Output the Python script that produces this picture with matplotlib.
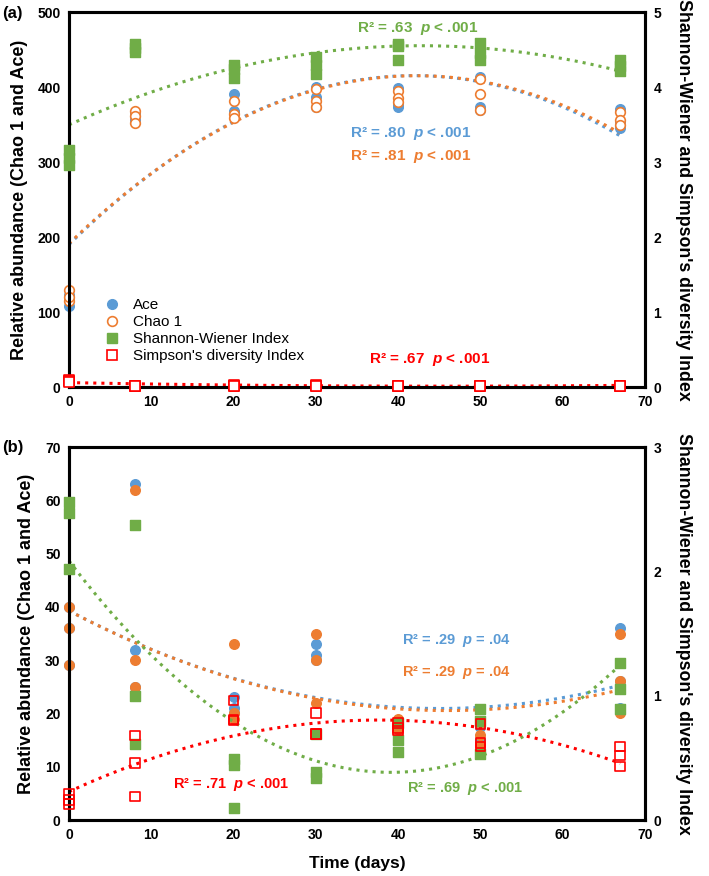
import numpy as np
import matplotlib
matplotlib.use("Agg")
import matplotlib.pyplot as plt
from matplotlib.lines import Line2D

# fonts: bold sans everywhere, bold italic p in the R2 notes
plt.rcParams['font.family'] = ['Liberation Sans', 'DejaVu Sans']
plt.rcParams['mathtext.fontset'] = 'custom'
plt.rcParams['mathtext.it'] = 'Liberation Sans:italic:bold'
plt.rcParams['mathtext.rm'] = 'Liberation Sans:bold'

# sampling days (3 replicates per day)
days = [0, 0, 0, 8, 8, 8, 20, 20, 20, 30, 30, 30, 40, 40, 40, 50, 50, 50, 67, 67, 67]

# panel (a)
ace_a = [108, 119, 123, 356, 366, 362, 391, 368, 366, 400, 387, 373,
         399, 376, 373, 414, 373, 370, 371, 354, 346]
chao_a = [129, 115, 120, 368, 362, 352, 381, 364, 359, 398, 381, 374,
          395, 386, 380, 411, 391, 369, 367, 356, 350]
shannon_a = [3.16, 3.05, 2.96, 4.58, 4.52, 4.47, 4.30, 4.24, 4.12, 4.40, 4.30, 4.18,
             4.57, 4.55, 4.36, 4.59, 4.46, 4.36, 4.36, 4.28, 4.22]
simpson_a = [0.09, 0.08, 0.07, 0.01, 0.01, 0.02, 0.03, 0.02, 0.02, 0.03, 0.02, 0.02,
             0.02, 0.02, 0.01, 0.02, 0.02, 0.01, 0.02, 0.02, 0.01]

# panel (b)
ace_b = [40, 36, 29, 63, 32, 25, 23, 21, 20, 33, 31, 30,
         18.5, 17.5, 17, 18, 17.4, 15, 36, 26, 21]
chao_b = [40, 36, 29, 62, 30, 25, 33, 20, 19, 35, 22, 30,
          19, 17.5, 17, 18.2, 16, 14, 35, 26, 20]
shannon_b = [2.56, 2.47, 2.02, 2.37, 1.00, 0.61, 0.49, 0.44, 0.10, 0.69, 0.39, 0.34,
             0.78, 0.64, 0.55, 0.89, 0.80, 0.53, 1.26, 1.05, 0.89]
simpson_b = [0.21, 0.13, 0.16, 0.68, 0.46, 0.19, 0.96, 0.81, 0.80, 0.86, 0.69, 0.69,
             0.78, 0.74, 0.72, 0.77, 0.62, 0.59, 0.59, 0.52, 0.43]

# R2 notes
notes_a = [('R² = .63  $p$ < .001', 'green'), ('R² = .80  $p$ < .001', 'blue'),
           ('R² = .81  $p$ < .001', 'orange'), ('R² = .67  $p$ < .001', 'red')]
notes_b = [('R² = .29  $p$ = .04', 'blue'), ('R² = .29  $p$ = .04', 'orange'),
           ('R² = .71  $p$ < .001', 'red'), ('R² = .69  $p$ < .001', 'green')]

col = {'blue': '#5B9BD5', 'orange': '#ED7D31', 'green': '#70AD47', 'red': '#FF0000'}

x = np.array(days, dtype=float)
xs = np.linspace(0, 67, 200)


def trend(ax, y, c):
    # 2nd order polynomial trendline like excel
    p = np.polyfit(x, y, 2)
    ax.plot(xs, np.polyval(p, xs), ls=':', lw=2.2, color=c, clip_on=False, zorder=2)


def style(ax, ax2):
    for a in (ax, ax2):
        for s in a.spines.values():
            s.set_linewidth(2.2)
        a.tick_params(length=0, labelsize=10, pad=6)
        for t in a.get_xticklabels() + a.get_yticklabels():
            t.set_fontweight('bold')
    ax.set_xlim(0, 70)
    ax.set_xticks(range(0, 71, 10))
    for t in ax.get_xticklabels():
        t.set_fontweight('bold')
    ax.set_ylabel('Relative abundance (Chao 1 and Ace)', fontsize=13, fontweight='bold', labelpad=7)
    ax2.set_ylabel("Shannon-Wiener and Simpson's diversity Index", fontsize=12.8,
                   fontweight='bold', rotation=270, labelpad=22)


fig = plt.figure(figsize=(7.09, 8.76), dpi=100)
ax1 = fig.add_axes([0.0973, 0.5582, 0.8124, 0.428])
ax1r = ax1.twinx()
ax2 = fig.add_axes([0.0973, 0.0639, 0.8124, 0.4258])
ax2r = ax2.twinx()

msize = 48

# ---- panel (a)
ax1.scatter(x, ace_a, s=msize, color=col['blue'], clip_on=False, zorder=3)
ax1.scatter(x, chao_a, s=msize, facecolors='white', edgecolors=col['orange'], linewidths=1.2,
            clip_on=False, zorder=3)
trend(ax1, ace_a, col['blue'])
trend(ax1, chao_a, col['orange'])
ax1r.scatter(x, shannon_a, s=msize, marker='s', color=col['green'], clip_on=False, zorder=3)
ax1r.scatter(x, simpson_a, s=msize, marker='s', facecolors='white', edgecolors=col['red'],
             linewidths=1.2, clip_on=False, zorder=3)
trend(ax1r, shannon_a, col['green'])
trend(ax1r, simpson_a, col['red'])
ax1.set_ylim(0, 500)
ax1.set_yticks(range(0, 501, 100))
ax1r.set_ylim(0, 5)
ax1r.set_yticks(range(0, 6))
style(ax1, ax1r)

pos_a = [(35.0, 478), (34.1, 338), (34.1, 308), (36.5, 37)]
for (txt, c), (tx, ty) in zip(notes_a, pos_a):
    ax1.text(tx, ty, txt, color=col[c], fontsize=11, fontweight='bold',
             va='center', ha='left')

handles = [
    Line2D([], [], ls='none', marker='o', ms=7, color=col['blue']),
    Line2D([], [], ls='none', marker='o', ms=7, mfc='white', mec=col['orange'], mew=1.2),
    Line2D([], [], ls='none', marker='s', ms=7, color=col['green']),
    Line2D([], [], ls='none', marker='s', ms=7, mfc='white', mec=col['red'], mew=1.2),
]
labels = ['Ace', 'Chao 1', 'Shannon-Wiener Index', "Simpson's diversity Index"]
ax1r.legend(handles, labels, loc='upper left', bbox_to_anchor=(0.045, 0.258), frameon=False,
            prop={'size': 11}, handletextpad=0.8, labelspacing=0.2, borderpad=0,
            handlelength=1.2)

# ---- panel (b)
ax2.scatter(x, ace_b, s=msize, color=col['blue'], clip_on=False, zorder=3)
ax2.scatter(x, chao_b, s=msize, color=col['orange'], clip_on=False, zorder=3)
trend(ax2, ace_b, col['blue'])
trend(ax2, chao_b, col['orange'])
ax2r.scatter(x, shannon_b, s=msize, marker='s', color=col['green'], clip_on=False, zorder=3)
ax2r.scatter(x, simpson_b, s=msize, marker='s', facecolors='none', edgecolors=col['red'],
             linewidths=1.2, clip_on=False, zorder=3)
trend(ax2r, shannon_b, col['green'])
trend(ax2r, simpson_b, col['red'])
ax2.set_ylim(0, 70)
ax2.set_yticks(range(0, 71, 10))
ax2r.set_ylim(0, 3)
ax2r.set_yticks(range(0, 4))
style(ax2, ax2r)
ax2.set_xlabel('Time (days)', fontsize=12.5, fontweight='bold', labelpad=10)

pos_b = [(40.5, 33.6), (40.5, 27.6), (12.6, 6.75), (41.1, 6.0)]
for (txt, c), (tx, ty) in zip(notes_b, pos_b):
    ax2.text(tx, ty, txt, color=col[c], fontsize=10.5, fontweight='bold',
             va='center', ha='left')

fig.text(0.003, 0.985, '(a)', fontsize=12, fontweight='bold', va='center')
fig.text(0.003, 0.489, '(b)', fontsize=12, fontweight='bold', va='center')

fig.savefig('out.png', dpi=100)
